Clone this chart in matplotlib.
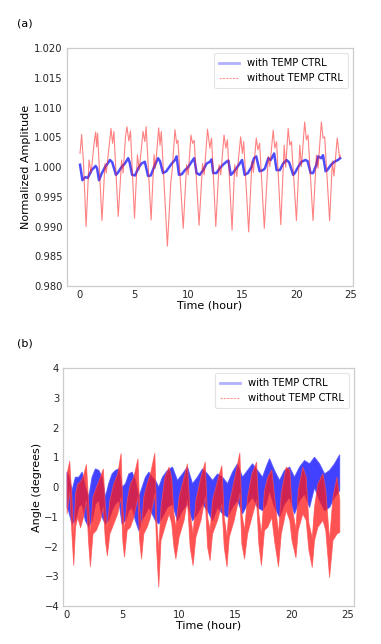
import matplotlib
matplotlib.use('Agg')
import matplotlib.pyplot as plt
from matplotlib.lines import Line2D
from matplotlib.ticker import MultipleLocator, FormatStrFormatter

# ---- panel (a): normalized amplitude ----
red_a_t = [0.03, 0.18, 0.34, 0.59, 0.86, 1.05, 1.35, 1.47, 1.56, 1.65,
           2.05, 2.33, 2.45, 2.79, 2.88, 3.03, 3.15, 3.55, 3.86, 4.00,
           4.22, 4.35, 4.53, 4.68, 5.05, 5.32, 5.48, 5.84, 6.00, 6.12,
           6.58, 6.85, 6.97, 7.28, 7.40, 7.52, 8.08, 8.40, 8.52, 8.78,
           8.93, 9.05, 9.54, 9.85, 10.00, 10.25, 10.40, 10.55, 11.00, 11.32,
           11.47, 11.78, 11.99, 12.15, 12.54, 12.84, 13.00, 13.30, 13.46, 13.61,
           14.04, 14.28, 14.47, 14.83, 14.99, 15.11, 15.57, 15.87, 16.00, 16.27,
           16.42, 16.58, 17.01, 17.38, 17.52, 17.83, 17.98, 18.14, 18.53, 18.84,
           18.98, 19.21, 19.36, 19.51, 19.97, 20.28, 20.43, 20.73, 20.89, 21.04,
           21.50, 21.81, 21.96, 22.27, 22.42, 22.57, 23.03, 23.28, 23.43, 23.73,
           23.95, 24.00]
red_a_v = [1.0023, 1.0055, 1.0010, 0.9900, 1.0012, 0.9990, 1.0044, 1.0059, 1.0034, 1.0057,
           0.9910, 1.0006, 0.9990, 1.0049, 1.0065, 1.0040, 1.0060, 0.9917, 1.0012, 0.9990,
           1.0051, 1.0068, 1.0044, 1.0061, 0.9914, 1.0021, 0.9995, 1.0060, 1.0043, 1.0068,
           0.9911, 1.0021, 0.9998, 1.0066, 1.0037, 1.0060, 0.9867, 0.9975, 0.9995, 1.0063,
           1.0040, 1.0045, 0.9897, 1.0004, 0.9987, 1.0054, 1.0040, 1.0045, 0.9902, 1.0006,
           0.9987, 1.0064, 1.0032, 1.0049, 0.9900, 1.0004, 0.9987, 1.0054, 1.0032, 1.0046,
           0.9894, 1.0004, 0.9984, 1.0051, 1.0023, 1.0043, 0.9891, 1.0010, 0.9991, 1.0049,
           1.0029, 1.0040, 0.9897, 1.0018, 1.0001, 1.0062, 1.0032, 1.0043, 0.9903, 1.0037,
           1.0000, 1.0065, 1.0037, 1.0043, 0.9910, 1.0037, 1.0001, 1.0076, 1.0046, 1.0054,
           0.9910, 1.0020, 0.9998, 1.0076, 1.0049, 1.0051, 0.9910, 1.0010, 0.9985, 1.0049,
           1.0015, 1.0020]

blue_a_t = [0.03, 0.25, 0.50, 0.75, 1.10, 1.47, 1.60, 1.78, 2.02, 2.33,
            2.57, 2.79, 3.00, 3.34, 3.50, 3.85, 4.16, 4.47, 4.60, 4.83,
            5.10, 5.39, 5.69, 6.00, 6.30, 6.55, 6.85, 7.07, 7.22, 7.40,
            7.68, 7.98, 8.17, 8.48, 8.78, 8.93, 9.15, 9.40, 9.70, 10.00,
            10.31, 10.55, 10.77, 11.06, 11.38, 11.69, 12.00, 12.15, 12.30, 12.60,
            12.90, 13.20, 13.52, 13.70, 13.92, 14.10, 14.44, 14.74, 14.96, 15.20,
            15.50, 15.82, 16.06, 16.27, 16.58, 16.90, 17.07, 17.38, 17.60, 17.92,
            18.14, 18.44, 18.75, 19.06, 19.30, 19.67, 19.82, 20.12, 20.43, 20.80,
            21.00, 21.28, 21.50, 21.81, 21.96, 22.27, 22.42, 22.66, 22.81, 23.16,
            23.47, 23.80, 24.00]
blue_a_v = [1.0004, 0.9978, 0.9983, 0.9982, 0.9995, 1.0002, 0.9998, 0.9978, 0.9989, 1.0000,
            1.0006, 1.0012, 1.0008, 0.9987, 0.9990, 1.0000, 1.0006, 1.0015, 1.0008, 0.9987,
            0.9986, 0.9998, 1.0006, 1.0009, 0.9985, 0.9986, 1.0000, 1.0009, 1.0015, 1.0010,
            0.9990, 0.9993, 0.9998, 1.0006, 1.0012, 1.0018, 0.9987, 0.9988, 0.9995, 1.0000,
            1.0009, 1.0015, 0.9990, 0.9987, 0.9995, 1.0006, 1.0009, 1.0013, 0.9990, 0.9990,
            0.9998, 1.0004, 1.0009, 1.0011, 0.9987, 0.9990, 0.9998, 1.0006, 1.0012, 0.9987,
            0.9990, 1.0000, 1.0015, 1.0018, 0.9993, 0.9995, 0.9998, 1.0015, 1.0012, 1.0023,
            0.9995, 0.9995, 1.0006, 1.0012, 1.0008, 0.9987, 0.9990, 1.0000, 1.0009, 1.0012,
            1.0010, 0.9990, 0.9990, 1.0004, 1.0018, 1.0015, 1.0020, 0.9993, 0.9995, 1.0004,
            1.0009, 1.0012, 1.0015]

# ---- panel (b): angle, noisy bands given as upper / lower envelopes ----
blue_b_t = [0.0, 0.15, 0.44, 0.74, 1.04, 1.33, 1.63, 1.93, 2.22, 2.52,
            2.82, 3.11, 3.41, 3.7, 4.0, 4.3, 4.6, 4.89, 5.19, 5.49,
            5.78, 6.08, 6.38, 6.67, 6.97, 7.27, 7.56, 7.86, 8.15, 8.48,
            8.92, 9.37, 9.81, 10.26, 10.7, 11.15, 11.59, 12.04, 12.49, 12.93,
            13.38, 13.82, 14.27, 14.71, 15.15, 15.6, 16.05, 16.49, 16.93, 17.38,
            17.7, 18.0, 18.44, 18.89, 19.33, 19.78, 20.22, 20.67, 21.11, 21.56,
            22.0, 22.45, 22.9, 23.34, 23.78, 24.23]
blue_b_hi = [0.52, 0.40, -0.10, 0.35, 0.35, 0.52, 0.01, -0.32, 0.35, 0.63,
             0.58, 0.35, -0.32, 0.13, 0.46, 0.58, 0.63, 0.01, 0.13, 0.46,
             0.52, 0.24, -0.32, 0.01, 0.35, 0.52, 0.35, 0.24, 0.01, 0.35,
             0.58, 0.69, 0.24, 0.46, 0.69, 0.13, 0.35, 0.63, 0.46, 0.24,
             0.46, 0.35, 0.13, 0.52, 0.80, 0.35, 0.58, 0.80, 0.58, 0.35,
             0.69, 0.97, 0.58, 0.24, 0.58, 0.69, 0.35, 0.69, 0.91, 0.80,
             1.02, 0.80, 0.46, 0.58, 0.80, 1.10]
blue_b_lo = [-0.66, -0.80, -1.22, -1.11, -0.66, -0.55, -1.11, -1.33, -1.11, -0.55,
             -0.43, -0.99, -1.22, -1.11, -0.77, -0.55, -0.43, -1.22, -1.11, -0.77,
             -0.66, -1.11, -1.44, -1.11, -0.88, -0.66, -0.88, -1.11, -1.22, -0.99,
             -0.66, -0.55, -1.11, -0.77, -0.55, -1.11, -0.88, -0.55, -0.77, -1.11,
             -0.66, -0.88, -0.99, -0.66, -0.43, -0.88, -0.55, -0.32, -0.66, -0.77,
             -0.55, -0.10, -0.66, -0.99, -0.55, -0.32, -0.88, -0.43, -0.21, -0.66,
             0.01, -0.43, -0.77, -0.66, -0.32, -0.10]

red_b_t = [0.0, 0.23, 0.42, 0.59, 0.75, 0.95, 1.2, 1.45, 1.72, 1.9,
           2.07, 2.3, 2.6, 2.96, 3.22, 3.4, 3.58, 3.8, 4.15, 4.5,
           4.8, 4.95, 5.1, 5.34, 5.63, 5.93, 6.3, 6.45, 6.62, 6.82,
           7.12, 7.41, 7.8, 7.97, 8.15, 8.35, 8.7, 9.07, 9.3, 9.5,
           9.67, 9.96, 10.4, 10.7, 10.94, 11.2, 11.45, 11.9, 12.28, 12.49,
           12.72, 12.93, 13.38, 13.76, 13.97, 14.22, 14.42, 14.86, 15.36, 15.54,
           15.78, 16.05, 16.43, 16.85, 17.05, 17.28, 17.55, 17.85, 18.2, 18.45,
           18.8, 19.04, 19.48, 19.8, 20.0, 20.35, 20.55, 20.96, 21.26, 21.5,
           21.8, 22.0, 22.3, 22.75, 23.0, 23.34, 23.64, 24.0, 24.25]
red_b_hi = [0.46, 0.89, -0.30, -1.60, -0.20, 0.13, 0.20, 0.40, 0.78, -0.43,
            -1.56, -0.32, 0.00, 0.35, 0.63, -0.66, -1.33, -0.43, 0.13, 0.46,
            1.15, -0.66, -1.44, -0.43, 0.13, 0.35, 0.97, -0.66, -1.33, -0.32,
            0.13, 0.46, 1.16, -1.11, -2.12, -0.66, 0.35, 0.69, 0.35, -0.90,
            -1.33, -0.32, 0.35, 0.80, -0.88, -1.56, -0.43, 0.35, 0.86, -1.00,
            -1.44, -0.43, 0.24, 0.74, -1.00, -1.67, -0.55, 0.24, 1.17, -0.88,
            -1.44, -0.32, 0.46, 0.86, -0.88, -1.56, -0.10, 0.35, 0.60, -0.30,
            -1.56, -0.21, 0.69, 0.60, -0.66, -1.40, -0.10, 0.69, 0.35, -1.20,
            -1.70, -0.66, 0.13, 0.46, -0.10, -1.78, -0.32, 0.35, -0.43]
red_b_lo = [-0.88, -0.10, -1.50, -2.62, -1.33, -1.00, -1.35, -1.00, -0.43, -1.78,
            -2.66, -1.56, -1.44, -1.10, -0.66, -1.78, -2.29, -1.56, -1.22, -0.88,
            -0.32, -1.78, -2.34, -1.44, -1.33, -1.00, -0.32, -1.78, -2.40, -1.56,
            -1.33, -1.00, -0.21, -2.12, -3.35, -1.78, -1.33, -0.88, -1.20, -2.00,
            -2.40, -1.67, -1.10, -0.43, -2.00, -2.62, -1.67, -1.10, -0.32, -2.00,
            -2.45, -1.56, -1.10, -0.55, -2.00, -2.66, -1.67, -1.10, -0.21, -1.90,
            -2.40, -1.56, -1.00, -0.43, -1.90, -2.62, -1.44, -1.33, -1.00, -1.80,
            -2.66, -1.56, -0.77, -1.10, -1.78, -2.36, -1.44, -0.88, -1.10, -2.10,
            -2.68, -1.78, -1.33, -1.10, -1.44, -3.02, -1.78, -1.56, -1.50]

labels = ['with TEMP CTRL', 'without TEMP CTRL']
BLUE = '#2020ff'
RED = '#ff1a1a'

plt.rcParams['font.family'] = ['DejaVu Sans']

fig = plt.figure(figsize=(3.81, 6.44), dpi=100)
ax1 = fig.add_axes([0.175, 0.556, 0.752, 0.369])
ax2 = fig.add_axes([0.166, 0.059, 0.763, 0.369])


def style(ax):
    for s in ax.spines.values():
        s.set_color('#cccccc')
        s.set_linewidth(0.9)
    ax.tick_params(length=0, labelsize=7.2, labelcolor='#262626', pad=3)


def add_legend(ax):
    handles = [Line2D([], [], color=BLUE, lw=2.0, alpha=0.35),
               Line2D([], [], color=RED, lw=0.8, alpha=0.45, ls=(0, (2, 1)))]
    leg = ax.legend(handles, labels, loc='upper right', fontsize=7.2,
                    frameon=True, borderpad=0.5, handlelength=2.0)
    leg.get_frame().set_edgecolor('#dddddd')
    leg.get_frame().set_linewidth(0.8)


# panel (a)
ax1.plot(blue_a_t, blue_a_v, color=BLUE, lw=1.8, alpha=0.8)
ax1.plot(red_a_t, red_a_v, color=RED, lw=0.8, alpha=0.55)
ax1.set_xlim(-1.2, 25.2)
ax1.set_ylim(0.98, 1.02)
ax1.yaxis.set_major_locator(MultipleLocator(0.005))
ax1.yaxis.set_major_formatter(FormatStrFormatter('%.3f'))
ax1.xaxis.set_major_locator(MultipleLocator(5))
ax1.set_xlabel('Time (hour)', fontsize=8, labelpad=0)
ax1.set_ylabel('Normalized Amplitude', fontsize=8, labelpad=2)
style(ax1)
add_legend(ax1)

# panel (b)
ax2.fill_between(blue_b_t, blue_b_lo, blue_b_hi, color=BLUE, alpha=0.85,
                 lw=0.8, edgecolor=(0.3, 0.3, 1.0, 0.4))
ax2.fill_between(red_b_t, red_b_lo, red_b_hi, color=RED, alpha=0.75,
                 lw=0.6, edgecolor=(1.0, 0.3, 0.3, 0.4))
ax2.set_xlim(-0.3, 25.55)
ax2.set_ylim(-4, 4)
ax2.yaxis.set_major_locator(MultipleLocator(1))
ax2.xaxis.set_major_locator(MultipleLocator(5))
ax2.set_xlabel('Time (hour)', fontsize=8, labelpad=0)
ax2.set_ylabel('Angle (degrees)', fontsize=8, labelpad=2)
style(ax2)
add_legend(ax2)

fig.text(0.045, 0.963, '(a)', fontsize=8, va='center')
fig.text(0.045, 0.466, '(b)', fontsize=8, va='center')

fig.savefig('out.png', dpi=100)
